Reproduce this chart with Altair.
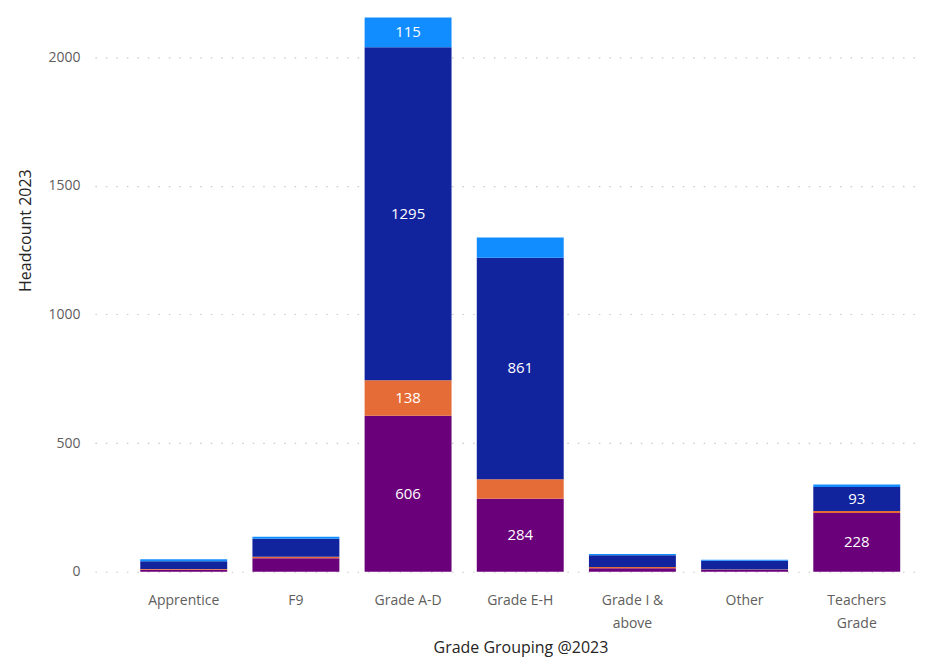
import altair as alt
import pandas as pd

grades = ["Apprentice", "F9", "Grade A-D", "Grade E-H", "Grade I & above", "Other", "Teachers Grade"]
series = ["Group 4", "Group 3", "Group 2", "Group 1"]  # bottom -> top
colors = ["#6B007B", "#E66C37", "#12239E", "#118DFF"]

group4 = [8, 52, 606, 284, 14, 7, 228]     # purple
group3 = [3, 6, 138, 76, 4, 2, 8]          # orange
group2 = [30, 70, 1295, 861, 46, 34, 93]   # dark blue
group1 = [8, 8, 115, 78, 5, 4, 10]         # light blue

rows = []
for si, (name, vals) in enumerate(zip(series, [group4, group3, group2, group1])):
    for g, v in zip(grades, vals):
        rows.append({"grade": g, "series": name, "ord": si, "value": v})
df = pd.DataFrame(rows)

FONT = "Segoe UI, Open Sans, sans-serif"

x_enc = alt.X(
    "grade:N",
    sort=grades,
    title="Grade Grouping @2023",
    scale=alt.Scale(paddingInner=0.225, paddingOuter=0.277, align=0.73),
    axis=alt.Axis(
        labelAngle=0,
        labelFontSize=14,
        labelColor="#605E5C",
        labelFont=FONT,
        labelPadding=22,
        labelLineHeight=23,
        labelExpr="datum.label == 'Grade I & above' ? ['Grade I &', 'above'] : datum.label == 'Teachers Grade' ? ['Teachers', 'Grade'] : datum.label",
        ticks=False,
        domain=False,
        titleFontSize=16,
        titleFont=FONT,
        titleColor="#252423",
        titleFontWeight="normal",
        titleX=426,
        titleY=81,
        titleBaseline="alphabetic",
    ),
)

base = alt.Chart(df).transform_stack(
    stack="value", groupby=["grade"], sort=[alt.SortField("ord")], as_=["y0", "y1"]
).transform_calculate(mid="(datum.y0 + datum.y1) / 2")

bars = base.mark_bar().encode(
    x=x_enc,
    y=alt.Y(
        "y0:Q",
        title="Headcount 2023",
        scale=alt.Scale(domain=[0, 2155], nice=False),
        axis=alt.Axis(
            values=[0, 500, 1000, 1500, 2000],
            format="d",
            labelFontSize=14,
            labelColor="#605E5C",
            labelFont=FONT,
            labelPadding=15,
            ticks=False,
            domain=False,
            grid=True,
            gridDash=[1.5, 9],
            gridColor="#C8C8C8",
            gridWidth=1.2,
            titleFontSize=16,
            titleFont=FONT,
            titleColor="#252423",
            titleFontWeight="normal",
            titleX=-64,
            titleY=213,
            titleBaseline="alphabetic",
        ),
    ),
    y2="y1:Q",
    color=alt.Color("series:N", scale=alt.Scale(domain=series, range=colors), legend=None),
)

labels = base.transform_filter("datum.value >= 90").mark_text(
    color="white", fontSize=15, font=FONT, baseline="middle"
).encode(
    x=alt.X("grade:N", sort=grades),
    y=alt.Y("mid:Q"),
    text=alt.Text("value:Q"),
)

chart = alt.layer(bars, labels).properties(
    width=823,
    height=555,
    autosize=alt.AutoSizeParams(type="none"),
    padding={"left": 87, "top": 9, "right": 0, "bottom": 88},
).configure_view(stroke=None).configure_axis(gridOpacity=1)

chart.save("out.html", embed_options={"renderer": "svg", "actions": False})
